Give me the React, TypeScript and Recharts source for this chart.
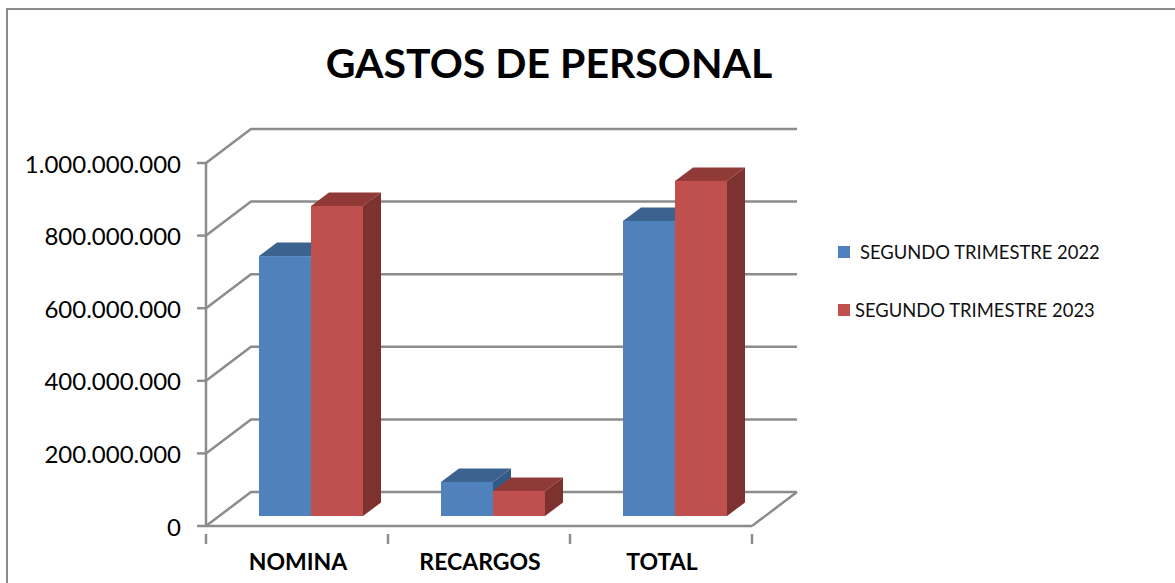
import React from "react";
import { BarChart, Bar, XAxis, YAxis, CartesianGrid } from "recharts";

const categories = ["NOMINA", "RECARGOS", "TOTAL"];
const serie2022 = [716000000, 94000000, 813000000];
const serie2023 = [854000000, 69000000, 923000000];
const yTicks = [0, 200000000, 400000000, 600000000, 800000000, 1000000000];
const seriesNames = ["SEGUNDO TRIMESTRE 2022", "SEGUNDO TRIMESTRE 2023"];

const data = categories.map((name, i) => ({
  name,
  a: serie2022[i],
  b: serie2023[i],
}));

const FONT = "Lato, 'Open Sans', sans-serif";
const AXIS_COLOR = "#8c8c8c";
const AXIS_WIDTH = 2.5;
const BAND = 182;

// 3D look: the back wall and the bars are offset from the front plane
const WALL_DX = 45;
const WALL_DY = 34;
const BAR_SHIFT_X = 14;
const BAR_SHIFT_Y = 10;
const BAR_DX = 18;
const BAR_DY = 13.5;

const formatTick = (v: number) =>
  String(v).replace(/\B(?=(\d{3})+(?!\d))/g, ".");

// Slanted wall line + back horizontal line for every value tick
const wallLine = (props: any) => {
  const { x1, x2, y1, index } = props;
  const backY = y1 - WALL_DY;
  const isFloor = y1 > 500;
  return (
    <g key={`wall-${index}`} fill="none" stroke={AXIS_COLOR} strokeWidth={AXIS_WIDTH}>
      <polyline points={`${x1},${y1} ${x1 + WALL_DX},${backY} ${x2 + WALL_DX},${backY}`} />
      {isFloor && <line x1={x2} y1={y1} x2={x2 + WALL_DX} y2={backY} />}
    </g>
  );
};

const Bar3D = (front: string, top: string, side: string) => (props: any) => {
  const { x, y, width, height } = props;
  const l = x + BAR_SHIFT_X;
  const r = l + width;
  const t = y - BAR_SHIFT_Y;
  const b = t + height;
  return (
    <g>
      <polygon
        points={`${l},${t} ${l + BAR_DX},${t - BAR_DY} ${r + BAR_DX},${t - BAR_DY} ${r},${t}`}
        fill={top}
      />
      <polygon
        points={`${r},${t} ${r + BAR_DX},${t - BAR_DY} ${r + BAR_DX},${b - BAR_DY} ${r},${b}`}
        fill={side}
      />
      <rect x={l} y={t} width={width} height={height} fill={front} />
    </g>
  );
};

const CategoryTick = (props: any) => {
  const { x, y, payload, index } = props;
  return (
    <g>
      <line x1={x - BAND / 2} y1={y} x2={x - BAND / 2} y2={y + 10} stroke={AXIS_COLOR} strokeWidth={AXIS_WIDTH} />
      {index === categories.length - 1 && (
        <line x1={x + BAND / 2} y1={y} x2={x + BAND / 2} y2={y + 10} stroke={AXIS_COLOR} strokeWidth={AXIS_WIDTH} />
      )}
      <text
        x={x + 1}
        y={y + 36}
        textAnchor="middle"
        fontFamily={FONT}
        fontWeight={700}
        fontSize={23}
        fill="#000"
      >
        {payload.value}
      </text>
    </g>
  );
};

const ValueTick = (props: any) => {
  const { x, y, payload } = props;
  return (
    <text x={x} y={y + 9.5} textAnchor="end" fontFamily={FONT} fontSize={24} fill="#000">
      {formatTick(payload.value)}
    </text>
  );
};

const App = () => {
  return (
    <div
      style={{
        position: "absolute",
        left: 0,
        top: 0,
        width: 1175,
        height: 583,
        overflow: "hidden",
        background: "#fff",
        fontFamily: FONT,
      }}
    >
      {/* Chart frame: only top and left edges fall inside the picture */}
      <div
        style={{
          position: "absolute",
          left: 6,
          top: 8,
          width: 1300,
          height: 700,
          border: `2px solid ${AXIS_COLOR}`,
        }}
      />
      <div
        style={{
          position: "absolute",
          left: 0,
          top: 36,
          width: 1098,
          textAlign: "center",
          fontSize: 41,
          fontWeight: 700,
          lineHeight: "54px",
          color: "#000",
        }}
      >
        GASTOS DE PERSONAL
      </div>

      <div style={{ position: "absolute", left: 0, top: 0 }}>
        <BarChart
          width={1175}
          height={583}
          data={data}
          barSize={52}
          barGap={0}
          margin={{ top: 163, right: 423, bottom: 0, left: 6 }}
        >
          <CartesianGrid horizontal={wallLine} vertical={false} />
          <XAxis
            dataKey="name"
            height={57}
            interval={0}
            stroke={AXIS_COLOR}
            strokeWidth={AXIS_WIDTH}
            tickLine={false}
            tick={CategoryTick}
          />
          <YAxis
            width={200}
            domain={[0, 1000000000]}
            ticks={yTicks}
            interval={0}
            stroke={AXIS_COLOR}
            strokeWidth={AXIS_WIDTH}
            tickSize={9}
            tickMargin={16}
            tick={ValueTick}
          />
          <Bar
            dataKey="a"
            name={seriesNames[0]}
            isAnimationActive={false}
            fill="#4f81bd"
            shape={Bar3D("#4f81bd", "#3c628f", "#335a87")}
          />
          <Bar
            dataKey="b"
            name={seriesNames[1]}
            isAnimationActive={false}
            fill="#c0504d"
            shape={Bar3D("#c0504d", "#903a38", "#7d3230")}
          />
        </BarChart>
      </div>

      {/* Legend */}
      <div style={{ position: "absolute", left: 838, top: 246, width: 12, height: 12, background: "#4f81bd" }} />
      <div style={{ position: "absolute", left: 860, top: 241, fontSize: 18.4, lineHeight: "22px", whiteSpace: "nowrap", color: "#111" }}>
        {seriesNames[0]}
      </div>
      <div style={{ position: "absolute", left: 838, top: 304, width: 12, height: 12, background: "#c0504d" }} />
      <div style={{ position: "absolute", left: 855, top: 299, fontSize: 18.4, lineHeight: "22px", whiteSpace: "nowrap", color: "#111" }}>
        {seriesNames[1]}
      </div>
    </div>
  );
};

export default App;
